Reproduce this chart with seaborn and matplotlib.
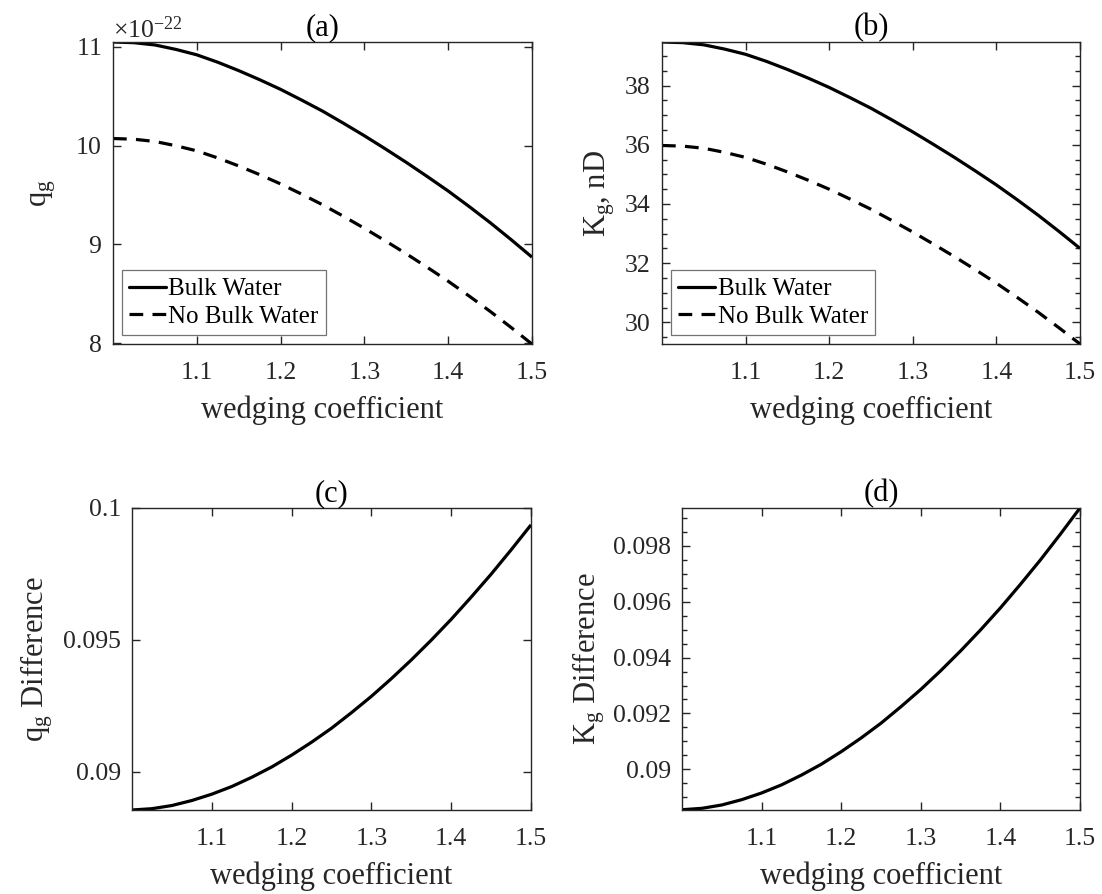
import matplotlib
matplotlib.use("Agg")
import numpy as np
import pandas as pd
import matplotlib.pyplot as plt
import seaborn as sns
from matplotlib.ticker import ScalarFormatter, FixedLocator, MultipleLocator, FuncFormatter

# ---------------- data ----------------
wedging = [1.000, 1.025, 1.050, 1.075, 1.100, 1.125, 1.150, 1.175, 1.200, 1.225, 1.250,
           1.275, 1.300, 1.325, 1.350, 1.375, 1.400, 1.425, 1.450, 1.475, 1.500]

# q_g in units of 1e-22
q_bulk = [11.050, 11.043, 11.020, 10.975, 10.920, 10.845, 10.760, 10.668, 10.570, 10.462, 10.350,
          10.227, 10.100, 9.967, 9.830, 9.687, 9.540, 9.383, 9.220, 9.048, 8.870]
q_nobulk = [10.072, 10.065, 10.042, 9.999, 9.947, 9.875, 9.794, 9.706, 9.612, 9.509, 9.401,
            9.284, 9.162, 9.035, 8.904, 8.767, 8.626, 8.476, 8.321, 8.158, 7.989]

# K_g in nD
K_bulk = [39.470, 39.448, 39.374, 39.230, 39.054, 38.815, 38.543, 38.249, 37.935, 37.590, 37.232,
          36.839, 36.433, 36.007, 35.569, 35.112, 34.642, 34.140, 33.619, 33.069, 32.500]
K_nobulk = [35.975, 35.953, 35.881, 35.742, 35.572, 35.343, 35.082, 34.800, 34.497, 34.165, 33.820,
            33.441, 33.050, 32.639, 32.217, 31.777, 31.324, 30.841, 30.341, 29.815, 29.271]

q_diff = [0.08855, 0.08860, 0.08872, 0.08891, 0.08915, 0.08944, 0.08979, 0.09018, 0.09063, 0.09112, 0.09165,
          0.09224, 0.09286, 0.09353, 0.09424, 0.09499, 0.09578, 0.09662, 0.09749, 0.09841, 0.09936]
K_diff = [0.08855, 0.08860, 0.08872, 0.08891, 0.08915, 0.08944, 0.08979, 0.09018, 0.09063, 0.09112, 0.09165,
          0.09224, 0.09286, 0.09353, 0.09424, 0.09499, 0.09578, 0.09662, 0.09749, 0.09841, 0.09936]

x_ticks = [1.1, 1.2, 1.3, 1.4, 1.5]
legend_labels = ["Bulk Water", "No Bulk Water"]
titles = ["(a)", "(b)", "(c)", "(d)"]
xlabel = "wedging coefficient"

# ---------------- style ----------------
sns.set_theme(style="ticks")
AX_COL = "#262626"
plt.rcParams.update({
    "font.family": ["Liberation Serif", "DejaVu Serif"],
    "mathtext.fontset": "custom",
    "mathtext.rm": "Liberation Serif",
    "mathtext.it": "Liberation Serif:italic",
    "mathtext.bf": "Liberation Serif:bold",
    "axes.unicode_minus": False,
    "axes.edgecolor": AX_COL,
    "axes.linewidth": 1.0,
    "xtick.color": AX_COL,
    "ytick.color": AX_COL,
    "axes.labelcolor": AX_COL,
    "text.color": "black",
})

TICK_FS = 18.5
LABEL_FS = 22
TITLE_FS = 22
LEG_FS = 18
LW = 2.3
DASH = (0, (4.3, 2.9))

fig = plt.figure(figsize=(11.02, 8.94), dpi=100)
W, H = 1102.0, 894.0

def axes_px(x0, x1, y0, y1):
    return fig.add_axes([x0 / W, 1 - y1 / H, (x1 - x0) / W, (y1 - y0) / H])

ax_a = axes_px(113, 532, 42, 344)
ax_b = axes_px(662, 1080, 42, 344)
ax_c = axes_px(132, 531, 508, 810)
ax_d = axes_px(682, 1080, 508, 810)

def style_axis(ax, title, minor_y=None):
    ax.set_xlim(1.0, 1.5)
    ax.xaxis.set_major_locator(FixedLocator(x_ticks))
    ax.xaxis.set_major_formatter(FuncFormatter(lambda v, p: f"{v:g}"))
    ax.tick_params(axis="both", which="major", direction="in", length=6, width=1.0,
                   top=True, right=True, labelsize=TICK_FS)
    ax.tick_params(axis="x", which="major", pad=13)
    ax.tick_params(axis="y", which="major", pad=8)
    if minor_y is not None:
        ax.yaxis.set_minor_locator(MultipleLocator(minor_y))
        ax.tick_params(axis="y", which="minor", direction="in", length=3.5, width=1.0,
                       left=True, right=True)
    ax.tick_params(axis="x", which="minor", bottom=False, top=False)
    for s in ax.spines.values():
        s.set_visible(True)
        s.set_color(AX_COL)
    ax.set_title(title, fontsize=TITLE_FS, pad=5)
    ax.set_xlabel(xlabel, fontsize=LABEL_FS, labelpad=8)

def add_legend(ax):
    leg = ax.legend(loc="lower left", frameon=True, fancybox=False, fontsize=LEG_FS,
                    handlelength=1.47, handletextpad=0.1, borderpad=0.3,
                    labelspacing=0.2, borderaxespad=0.35)
    leg.get_frame().set_edgecolor("0.45")
    leg.get_frame().set_linewidth(0.9)
    leg.get_frame().set_facecolor("white")
    leg.get_frame().set_alpha(1.0)

# ---- (a) ----
scale = 1e-22
sns.lineplot(x=wedging, y=[v * scale for v in q_bulk], ax=ax_a, color="black", lw=LW,
             label=legend_labels[0])
sns.lineplot(x=wedging, y=[v * scale for v in q_nobulk], ax=ax_a, color="black", lw=LW,
             linestyle=DASH, label=legend_labels[1])
ax_a.set_ylim(7.99e-22, 11.05e-22)
ax_a.yaxis.set_major_locator(FixedLocator([8e-22, 9e-22, 10e-22, 11e-22]))
fmt = ScalarFormatter(useMathText=True)
fmt.set_powerlimits((-22, -22))
ax_a.yaxis.set_major_formatter(fmt)
ax_a.yaxis.get_offset_text().set_fontsize(TICK_FS)
ax_a.yaxis.get_offset_text().set_color(AX_COL)
style_axis(ax_a, titles[0])
ax_a.set_ylabel(r"$\mathrm{q_g}$", fontsize=LABEL_FS, labelpad=12)
add_legend(ax_a)

# ---- (b) ----
sns.lineplot(x=wedging, y=K_bulk, ax=ax_b, color="black", lw=LW, label=legend_labels[0])
sns.lineplot(x=wedging, y=K_nobulk, ax=ax_b, color="black", lw=LW, linestyle=DASH,
             label=legend_labels[1])
ax_b.set_ylim(29.27, 39.47)
ax_b.yaxis.set_major_locator(FixedLocator([30, 32, 34, 36, 38]))
style_axis(ax_b, titles[1], minor_y=0.5)
ax_b.set_ylabel(r"$\mathrm{K_g}$, nD", fontsize=LABEL_FS, labelpad=6)
add_legend(ax_b)

# ---- (c) ----
sns.lineplot(x=wedging, y=q_diff, ax=ax_c, color="black", lw=LW)
ax_c.set_ylim(0.08855, 0.1)
ax_c.yaxis.set_major_locator(FixedLocator([0.09, 0.095, 0.1]))
ax_c.yaxis.set_major_formatter(FuncFormatter(lambda v, p: f"{v:g}"))
style_axis(ax_c, titles[2])
ax_c.set_ylabel(r"$\mathrm{q_g}$ Difference", fontsize=LABEL_FS, labelpad=6)

# ---- (d) ----
sns.lineplot(x=wedging, y=K_diff, ax=ax_d, color="black", lw=LW)
ax_d.set_ylim(0.08854, 0.09936)
ax_d.yaxis.set_major_locator(FixedLocator([0.09, 0.092, 0.094, 0.096, 0.098]))
ax_d.yaxis.set_major_formatter(FuncFormatter(lambda v, p: f"{v:g}"))
style_axis(ax_d, titles[3], minor_y=0.0005)
ax_d.set_ylabel(r"$\mathrm{K_g}$ Difference", fontsize=LABEL_FS, labelpad=4)

for ax in (ax_a, ax_b, ax_c, ax_d):
    for ln in ax.get_lines():
        ln.set_solid_capstyle("butt")
        ln.set_dash_capstyle("butt")

fig.savefig("out.png", dpi=100, facecolor="white")
